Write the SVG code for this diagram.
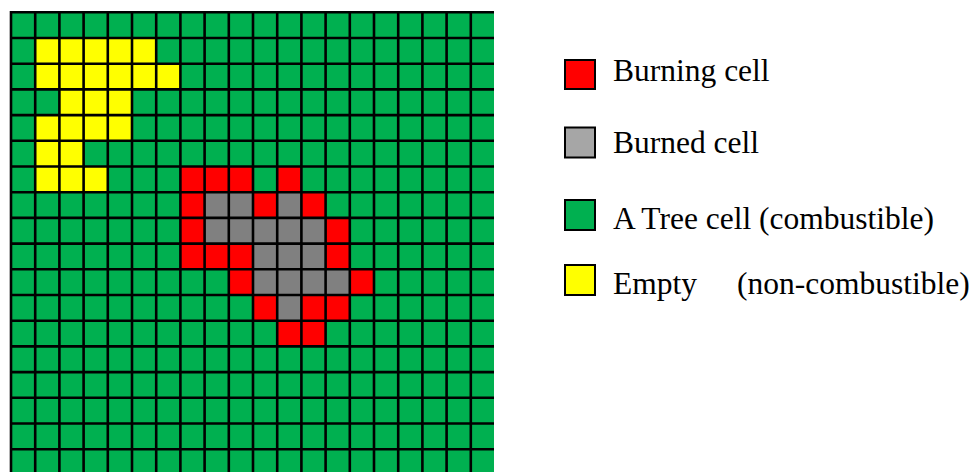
<svg xmlns="http://www.w3.org/2000/svg" width="974" height="472" viewBox="0 0 974 472">
<style>
.y{fill:#FFFF00}.r{fill:#FF0000}.g{fill:#808080}
.grid{fill:none;stroke:#000;stroke-width:2.6}
.key{stroke:#000;stroke-width:2}
.lbl{font-family:"Liberation Serif","Times New Roman",serif;font-size:31.5px;fill:#000}
</style>
<rect width="974" height="472" fill="#fff"/>
<g id="grid">
<rect x="11" y="12.3" width="483" height="480" fill="#00B050"/>
<g id="empty-cells">
<rect class="y" x="35.2" y="38" width="121" height="25.7"/>
<rect class="y" x="35.2" y="63.7" width="145.2" height="25.7"/>
<rect class="y" x="59.4" y="89.4" width="72.6" height="25.7"/>
<rect class="y" x="35.2" y="115.1" width="96.8" height="25.7"/>
<rect class="y" x="35.2" y="140.8" width="48.4" height="25.7"/>
<rect class="y" x="35.2" y="166.5" width="72.6" height="25.7"/>
</g>
<g id="fire-cells">
<rect class="r" x="180.4" y="166.5" width="72.6" height="25.7"/>
<rect class="r" x="277.2" y="166.5" width="24.2" height="25.7"/>
<rect class="r" x="180.4" y="192.2" width="24.2" height="25.7"/>
<rect class="g" x="204.6" y="192.2" width="48.4" height="25.7"/>
<rect class="r" x="253" y="192.2" width="24.2" height="25.7"/>
<rect class="g" x="277.2" y="192.2" width="24.2" height="25.7"/>
<rect class="r" x="301.4" y="192.2" width="24.2" height="25.7"/>
<rect class="r" x="180.4" y="217.9" width="24.2" height="25.7"/>
<rect class="g" x="204.6" y="217.9" width="121" height="25.7"/>
<rect class="r" x="325.6" y="217.9" width="24.2" height="25.7"/>
<rect class="r" x="180.4" y="243.6" width="72.6" height="25.7"/>
<rect class="g" x="253" y="243.6" width="72.6" height="25.7"/>
<rect class="r" x="325.6" y="243.6" width="24.2" height="25.7"/>
<rect class="r" x="228.8" y="269.3" width="24.2" height="25.7"/>
<rect class="g" x="253" y="269.3" width="96.8" height="25.7"/>
<rect class="r" x="349.8" y="269.3" width="24.2" height="25.7"/>
<rect class="r" x="253" y="295" width="24.2" height="25.7"/>
<rect class="g" x="277.2" y="295" width="24.2" height="25.7"/>
<rect class="r" x="301.4" y="295" width="48.4" height="25.7"/>
<rect class="r" x="277.2" y="320.7" width="48.4" height="25.7"/>
</g>
<path class="grid" d="M11 11V490M35.2 12.3V490M59.4 12.3V490M83.6 12.3V490M107.8 12.3V490M132 12.3V490M156.2 12.3V490M180.4 12.3V490M204.6 12.3V490M228.8 12.3V490M253 12.3V490M277.2 12.3V490M301.4 12.3V490M325.6 12.3V490M349.8 12.3V490M374 12.3V490M398.2 12.3V490M422.4 12.3V490M446.6 12.3V490M470.8 12.3V490
M11 12.3H494M11 38H494M11 63.7H494M11 89.4H494M11 115.1H494M11 140.8H494M11 166.5H494M11 192.2H494M11 217.9H494M11 243.6H494M11 269.3H494M11 295H494M11 320.7H494M11 346.4H494M11 372.1H494M11 397.8H494M11 423.5H494M11 449.2H494M11 474.9H494"/>
</g>
<g id="legend-burning">
<rect class="key" x="565" y="60" width="30" height="29" fill="#FF0000"/>
<text class="lbl" x="613" y="81">Burning cell</text>
</g>
<g id="legend-burned">
<rect class="key" x="565" y="127.5" width="30" height="30" fill="#A6A6A6"/>
<text class="lbl" x="613" y="153">Burned cell</text>
</g>
<g id="legend-tree">
<rect class="key" x="565" y="200" width="30" height="30" fill="#00B050"/>
<text class="lbl" x="613" y="229">A Tree cell (combustible)</text>
</g>
<g id="legend-empty">
<rect class="key" x="565" y="265" width="30" height="30" fill="#FFFF00"/>
<text class="lbl" x="613" y="294">Empty<tspan x="737">(non-combustible)</tspan></text>
</g>
</svg>
